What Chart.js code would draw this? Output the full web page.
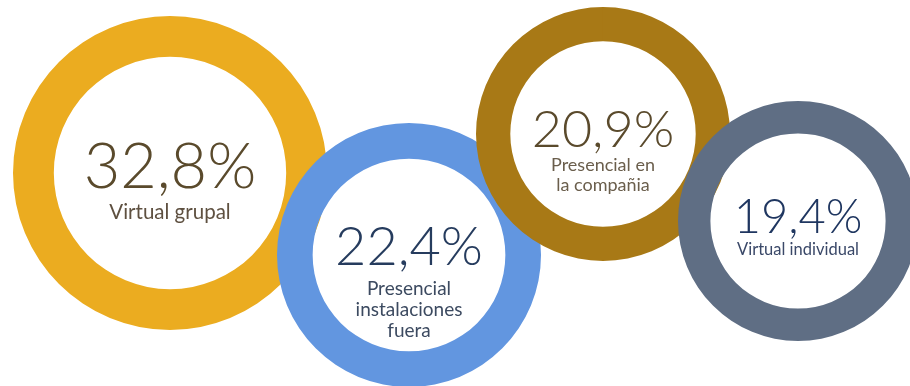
<!DOCTYPE html>
<html>
<head>
<meta charset="utf-8">
<script src="https://cdn.jsdelivr.net/npm/chart.js@4"></script>
<style>
  html, body { margin: 0; padding: 0; background: #fff; }
  body { width: 910px; height: 386px; position: relative; overflow: hidden; }
  canvas { position: absolute; }
</style>
</head>
<body>
<canvas id="ring0"></canvas>
<canvas id="ring1"></canvas>
<canvas id="ring2"></canvas>
<canvas id="ring3"></canvas>
<script>
// data
const categories = ['Virtual grupal', 'Presencial instalaciones fuera', 'Presencial en la compañia', 'Virtual individual'];
const labelLines = [
  ['Virtual grupal'],
  ['Presencial', 'instalaciones', 'fuera'],
  ['Presencial en', 'la compañia'],
  ['Virtual individual']
];
const values = [32.8, 22.4, 20.9, 19.4];

// look
const ringColors = ['#EBAC20', '#6296E0', '#A87916', '#5F6E84'];
const textColors = ['#5A4A2C', '#263C5E', '#5A4A2C', '#1F3660'];
const labelColors = ['#5E5040', '#3C4A60', '#6A5E4C', '#3A4868'];

// layout: center, outer radius, cutout, font sizes, offsets from center
const layout = [
  { cx: 170, cy: 173, r: 157, cut: '74%', numSize: 63, lblSize: 20.5, numDy: -5, lblDy: 39, gap: 21 },
  { cx: 409, cy: 255, r: 132, cut: '73%', numSize: 54, lblSize: 19, numDy: -7, lblDy: 34, gap: 21 },
  { cx: 603, cy: 134, r: 127, cut: '73%', numSize: 52, lblSize: 18, numDy: -4, lblDy: 31, gap: 20 },
  { cx: 798, cy: 221, r: 120, cut: '73%', numSize: 47, lblSize: 16.5, numDy: -3, lblDy: 29, gap: 20 }
];

const fontFamily = '"Century Gothic", Lato, "Open Sans", sans-serif';

const centerText = {
  id: 'centerText',
  afterDatasetsDraw(chart, args, opts) {
    const { ctx } = chart;
    const arc = chart.getDatasetMeta(0).data[0];
    const x = arc.x, y = arc.y;
    ctx.save();
    ctx.textAlign = 'center';
    ctx.textBaseline = 'middle';
    ctx.fillStyle = opts.color;
    ctx.font = '300 ' + opts.numSize + 'px ' + fontFamily;
    ctx.fillText(opts.value.toFixed(1).replace('.', ',') + '%', x, y + opts.numDy);
    ctx.fillStyle = opts.labelColor;
    ctx.font = '400 ' + opts.lblSize + 'px ' + fontFamily;
    opts.lines.forEach((line, i) => {
      ctx.fillText(line, x, y + opts.lblDy + i * opts.gap);
    });
    ctx.restore();
  }
};

categories.forEach((cat, i) => {
  const L = layout[i];
  const canvas = document.getElementById('ring' + i);
  canvas.width = L.r * 2;
  canvas.height = L.r * 2;
  canvas.style.left = (L.cx - L.r) + 'px';
  canvas.style.top = (L.cy - L.r) + 'px';
  canvas.style.zIndex = i + 1;

  new Chart(canvas, {
    type: 'doughnut',
    data: {
      labels: [cat],
      datasets: [{
        data: [values[i]],
        backgroundColor: ringColors[i],
        borderWidth: 0
      }]
    },
    options: {
      responsive: false,
      animation: false,
      cutout: L.cut,
      layout: { padding: 0 },
      plugins: {
        legend: { display: false },
        tooltip: { enabled: false },
        centerText: {
          value: values[i],
          lines: labelLines[i],
          color: textColors[i],
          labelColor: labelColors[i],
          numSize: L.numSize,
          lblSize: L.lblSize,
          numDy: L.numDy,
          lblDy: L.lblDy,
          gap: L.gap
        }
      }
    },
    plugins: [centerText]
  });
});
</script>
</body>
</html>
